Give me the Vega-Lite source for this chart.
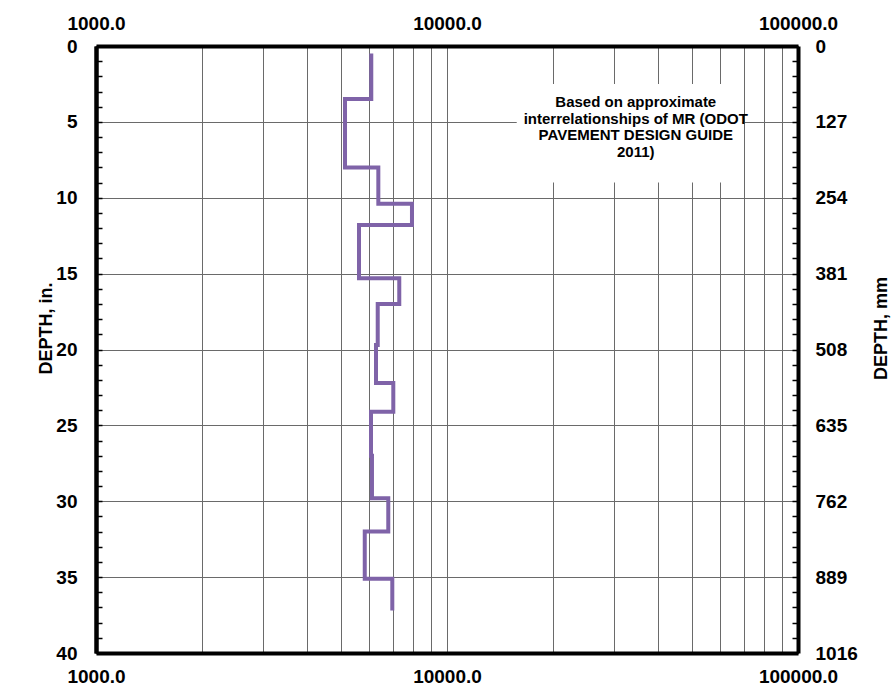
{
  "$schema": "https://vega.github.io/schema/vega-lite/v6.json",
  "width": 702,
  "height": 607,
  "autosize": {"type": "none"},
  "padding": {"left": 96, "top": 46, "right": 97, "bottom": 34},
  "background": "white",
  "config": {
    "view": {"stroke": null},
    "font": "Liberation Sans",
    "axis": {
      "labelFont": "Liberation Sans", "labelFontWeight": "bold", "labelFontSize": 19, "labelColor": "black",
      "titleFont": "Liberation Sans", "titleFontWeight": "bold", "titleFontSize": 18, "titleColor": "black",
      "domainColor": "black", "domainWidth": 4,
      "gridColor": "#6a6a6a", "gridOpacity": 1, "gridWidth": 1,
      "tickColor": "black", "tickWidth": 1.5,
      "labelFlush": false, "labelOverlap": false
    }
  },
  "resolve": {
    "scale": {"x": "shared", "y": "shared"},
    "axis": {"x": "independent", "y": "independent"}
  },
  "layer": [
    {
      "data": {"values": [{"x1": 15800, "x2": 69500, "d1": 2.5, "d2": 9.0}]},
      "mark": {"type": "rect", "fill": "white"},
      "encoding": {
        "x": {
          "field": "x1", "type": "quantitative",
          "scale": {"type": "log", "domain": [1000, 100000], "nice": false},
          "axis": {
            "orient": "bottom",
            "values": [1000, 2000, 3000, 4000, 5000, 6000, 7000, 8000, 9000, 10000, 20000, 30000, 40000, 50000, 60000, 70000, 80000, 90000, 100000],
            "grid": true, "ticks": false, "labelPadding": 14,
            "labelExpr": "indexof([1000, 10000, 100000], datum.value) >= 0 ? format(datum.value, '.1f') : ''",
            "title": null
          }
        },
        "x2": {"field": "x2"},
        "y": {
          "field": "d1", "type": "quantitative",
          "scale": {"domain": [0, 40], "reverse": true, "nice": false, "zero": false},
          "axis": {
            "orient": "left",
            "values": [0, 5, 10, 15, 20, 25, 30, 35, 40],
            "grid": true, "ticks": false, "labelPadding": 19,
            "title": "DEPTH, in.", "titleAngle": -90, "titleAlign": "center", "titleBaseline": "middle",
            "titleX": -50, "titleY": 282
          }
        },
        "y2": {"field": "d2"}
      }
    },
    {
      "data": {"values": [
        {"order": 1, "depth": 0.5, "mr": 6085},
        {"order": 2, "depth": 3.5, "mr": 6085},
        {"order": 3, "depth": 3.5, "mr": 5122},
        {"order": 4, "depth": 8.0, "mr": 5122},
        {"order": 5, "depth": 8.0, "mr": 6373},
        {"order": 6, "depth": 10.4, "mr": 6373},
        {"order": 7, "depth": 10.4, "mr": 7947},
        {"order": 8, "depth": 11.8, "mr": 7947},
        {"order": 9, "depth": 11.8, "mr": 5614},
        {"order": 10, "depth": 15.3, "mr": 5614},
        {"order": 11, "depth": 15.3, "mr": 7312},
        {"order": 12, "depth": 17.0, "mr": 7312},
        {"order": 13, "depth": 17.0, "mr": 6348},
        {"order": 14, "depth": 19.7, "mr": 6348},
        {"order": 15, "depth": 19.7, "mr": 6277},
        {"order": 16, "depth": 22.2, "mr": 6277},
        {"order": 17, "depth": 22.2, "mr": 7031},
        {"order": 18, "depth": 24.1, "mr": 7031},
        {"order": 19, "depth": 24.1, "mr": 6074},
        {"order": 20, "depth": 27.0, "mr": 6074},
        {"order": 21, "depth": 27.0, "mr": 6113},
        {"order": 22, "depth": 29.8, "mr": 6113},
        {"order": 23, "depth": 29.8, "mr": 6803},
        {"order": 24, "depth": 32.0, "mr": 6803},
        {"order": 25, "depth": 32.0, "mr": 5830},
        {"order": 26, "depth": 35.1, "mr": 5830},
        {"order": 27, "depth": 35.1, "mr": 6985},
        {"order": 28, "depth": 37.2, "mr": 6985}
      ]},
      "mark": {"type": "line", "color": "#7F63A8", "strokeWidth": 4},
      "encoding": {
        "x": {
          "field": "mr", "type": "quantitative",
          "axis": {
            "orient": "top", "values": [1000, 10000, 100000], "format": ".1f",
            "grid": false, "ticks": false, "labelPadding": 13, "title": null
          }
        },
        "y": {
          "field": "depth", "type": "quantitative",
          "axis": {
            "orient": "left",
            "values": [0,1,2,3,4,5,6,7,8,9,10,11,12,13,14,15,16,17,18,19,20,21,22,23,24,25,26,27,28,29,30,31,32,33,34,35,36,37,38,39,40],
            "labels": false, "grid": false, "ticks": true, "tickSize": -6, "title": null
          }
        },
        "order": {"field": "order", "type": "quantitative"}
      }
    },
    {
      "data": {"values": [{"x": 34500, "d": 3.7, "label": "Based on approximate\ninterrelationships of MR (ODOT\nPAVEMENT DESIGN GUIDE\n2011)"}]},
      "mark": {"type": "text", "lineBreak": "\n", "font": "Liberation Sans", "fontWeight": "bold", "fontSize": 15, "lineHeight": 16.5, "align": "center", "baseline": "middle", "color": "black"},
      "encoding": {
        "x": {"field": "x", "type": "quantitative", "axis": null},
        "y": {
          "field": "d", "type": "quantitative",
          "axis": {
            "orient": "right",
            "values": [0,1,2,3,4,5,6,7,8,9,10,11,12,13,14,15,16,17,18,19,20,21,22,23,24,25,26,27,28,29,30,31,32,33,34,35,36,37,38,39,40],
            "labelExpr": "datum.value % 5 == 0 ? format(datum.value * 25.4, 'd') : ''",
            "grid": false, "ticks": true, "tickSize": -6, "labelPadding": 23,
            "title": "DEPTH, mm", "titleAngle": -90, "titleAlign": "center", "titleBaseline": "middle",
            "titleX": 83, "titleY": 282
          }
        },
        "text": {"field": "label", "type": "nominal"}
      }
    }
  ]
}
